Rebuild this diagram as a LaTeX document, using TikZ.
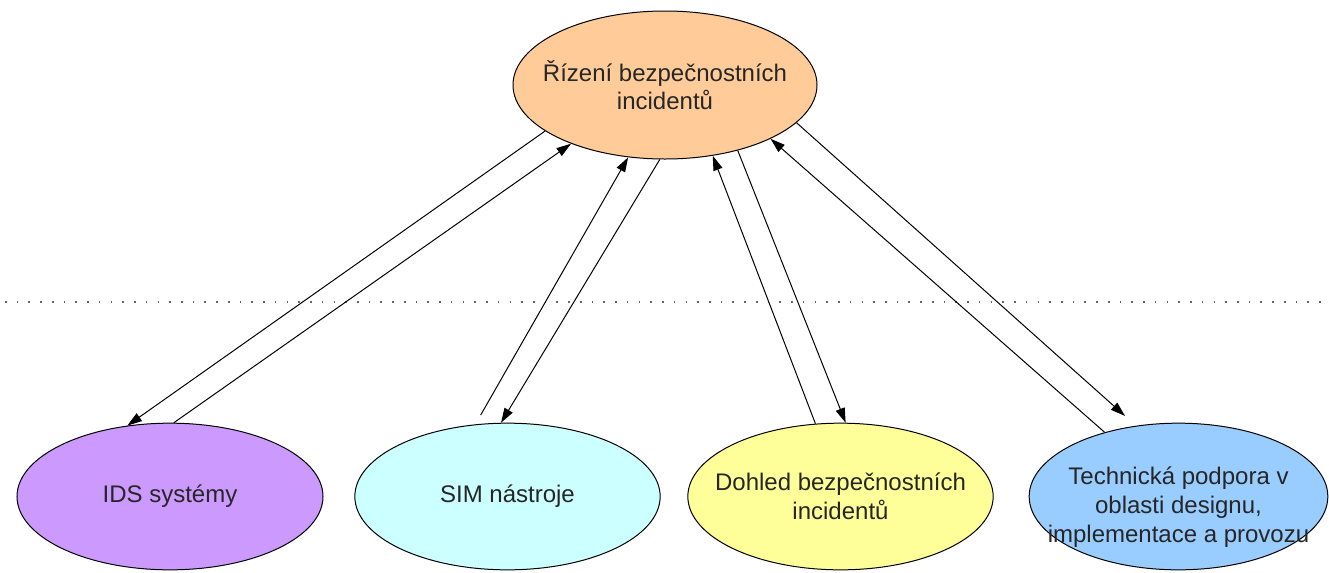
\documentclass[tikz,border=0pt]{standalone}
\usepackage{fontspec}
\setmainfont{Liberation Sans}
\usetikzlibrary{shapes.geometric,arrows.meta}
\definecolor{cTop}{HTML}{FFCC99}
\definecolor{cIds}{HTML}{CC99FF}
\definecolor{cSim}{HTML}{CCFFFF}
\definecolor{cDoh}{HTML}{FFFF99}
\definecolor{cTech}{HTML}{99CCFF}
\begin{document}
\begin{tikzpicture}[x=0.75pt,y=-0.75pt,
  ell/.style={ellipse, draw=black, line width=0.75pt, inner sep=0pt, minimum height=110pt},
  txt/.style={font=\fontsize{18}{21.5}\selectfont, align=center, text=black!85},
  conn/.style={line width=0.75pt, -{Triangle[length=11pt,width=7pt]}}]
\useasboundingbox (0,0) rectangle (1329,572);
\draw[black!60, line width=1.4pt, dash pattern=on 1.2pt off 7.6pt] (5,302) -- (1329,302);
\node[ell, fill=cTop, minimum width=228pt, minimum height=111pt,
  label={[txt]center:Řízení bezpečnostních\\incidentů}] (top) at (665,85) {};
\node[ell, fill=cIds, minimum width=229.5pt,
  label={[txt]center:IDS systémy}] (ids) at (170,496.5) {};
\node[ell, fill=cSim, minimum width=229pt,
  label={[txt]center:SIM nástroje}] (sim) at (507.5,496.5) {};
\node[ell, fill=cDoh, minimum width=229pt,
  label={[txt]center:Dohled bezpečnostních\\incidentů}] (doh) at (840.5,496.5) {};
\node[ell, fill=cTech, minimum width=224pt,
  label={[txt, yshift=-8pt]center:Technická podpora v\\oblasti designu,\\implementace a provozu}] (tech) at (1178.5,496.5) {};
\draw[conn] (top.201) -- (ids.121.5);
\draw[conn] (ids.87.7) -- (top.212.9);
\draw[conn, shorten <=8pt] (sim.114.4) -- (top.243.7);
\draw[conn] (top.266.3) -- (sim.95.4);
\draw[conn] (doh.109.3) -- (top.304.7);
\draw[conn] (top.318.1) -- (doh.86);
\draw[conn] (tech.139.7) -- (top.333);
\draw[conn, shorten >=11pt] (top.344.5) -- (tech.121.4);
\end{tikzpicture}
\end{document}
